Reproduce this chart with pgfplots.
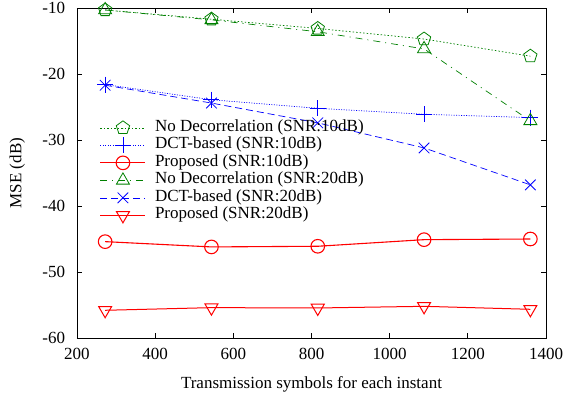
\documentclass[border=0pt]{standalone}
\usepackage{pgfplots}
\pgfplotsset{compat=1.18}
\usepackage{fontspec}
\setmainfont{Liberation Serif}
\usetikzlibrary{plotmarks}
\definecolor{gpgreen}{RGB}{0,128,0}
\begin{document}
\fontsize{17}{17}\selectfont
\begin{tikzpicture}
\path[use as bounding box] (-77pt,-59pt) rectangle (487pt,338pt);
\begin{axis}[
  at={(0,0)}, anchor=south west,
  scale only axis, width=469pt, height=330pt,
  xmin=200, xmax=1400, ymin=-60, ymax=-10,
  xtick={200,400,...,1400}, ytick={-60,-50,...,-10},
  tick align=inside, major tick length=5pt,
  xtick pos=both, ytick pos=both,
  /pgf/number format/assume math mode=true,
  /pgf/number format/1000 sep={},
  tick label style={font=\fontsize{17}{17}\selectfont},
  xticklabel style={yshift=-4pt},
  yticklabel style={xshift=-6pt},
  label style={font=\fontsize{17}{17}\selectfont},
  xlabel={Transmission symbols for each instant},
  ylabel={MSE (dB)},
  xlabel style={yshift=-6pt},
  ylabel style={yshift=6pt},
  axis line style={line width=0.8pt},
  every tick/.style={line width=0.8pt, black},
  legend cell align=left,
  legend style={draw=none, fill=none, at={(rel axis cs:0.042,0.67)}, anchor=north west,
    font=\fontsize{17}{17}\selectfont, column sep=9pt, row sep=0pt,
    nodes={inner sep=0pt, text height=12pt, text depth=5.5pt}},
  legend image code/.code={\draw[mark repeat=2,mark phase=2] plot coordinates {(0pt,0pt)(22.5pt,0pt)(45pt,0pt)};},
]
\addplot[gpgreen, line width=0.7pt, dash pattern=on 1.5pt off 2pt, mark=pentagon, mark size=7pt, mark options={solid, line width=0.8pt}]
 coordinates {(272,-10.3)(544,-11.7)(816,-13.1)(1088,-14.7)(1360,-17.3)};
\addlegendentry{No Decorrelation (SNR:10dB)}
\addplot[blue, line width=0.7pt, dash pattern=on 1pt off 1.5pt, mark=+, mark size=8pt, mark options={solid, line width=0.8pt}]
 coordinates {(272,-21.6)(544,-23.9)(816,-25.2)(1088,-26.1)(1360,-26.6)};
\addlegendentry{DCT-based (SNR:10dB)}
\addplot[red, line width=1.1pt, mark=o, mark size=6.8pt, mark options={solid, line width=1.1pt}]
 coordinates {(272,-45.4)(544,-46.2)(816,-46.1)(1088,-45.1)(1360,-45.0)};
\addlegendentry{Proposed (SNR:10dB)}
\addplot[gpgreen, line width=0.7pt, dash pattern=on 7pt off 5pt on 1pt off 5pt, mark=triangle, mark size=7.5pt, mark options={solid, line width=0.8pt}]
 coordinates {(272,-10.3)(544,-11.8)(816,-13.6)(1088,-16.2)(1360,-27.1)};
\addlegendentry{No Decorrelation (SNR:20dB)}
\addplot[blue, line width=0.7pt, dash pattern=on 7pt off 4pt, mark=x, mark size=7.5pt, mark options={solid, line width=0.8pt}]
 coordinates {(272,-21.7)(544,-24.4)(816,-27.4)(1088,-31.2)(1360,-36.8)};
\addlegendentry{DCT-based (SNR:20dB)}
\addplot[red, line width=1.0pt, mark=triangle, mark size=7.5pt, mark options={solid, rotate=180, line width=1.0pt}]
 coordinates {(272,-55.8)(544,-55.4)(816,-55.45)(1088,-55.2)(1360,-55.65)};
\addlegendentry{Proposed (SNR:20dB)}
\end{axis}
\end{tikzpicture}
\end{document}
